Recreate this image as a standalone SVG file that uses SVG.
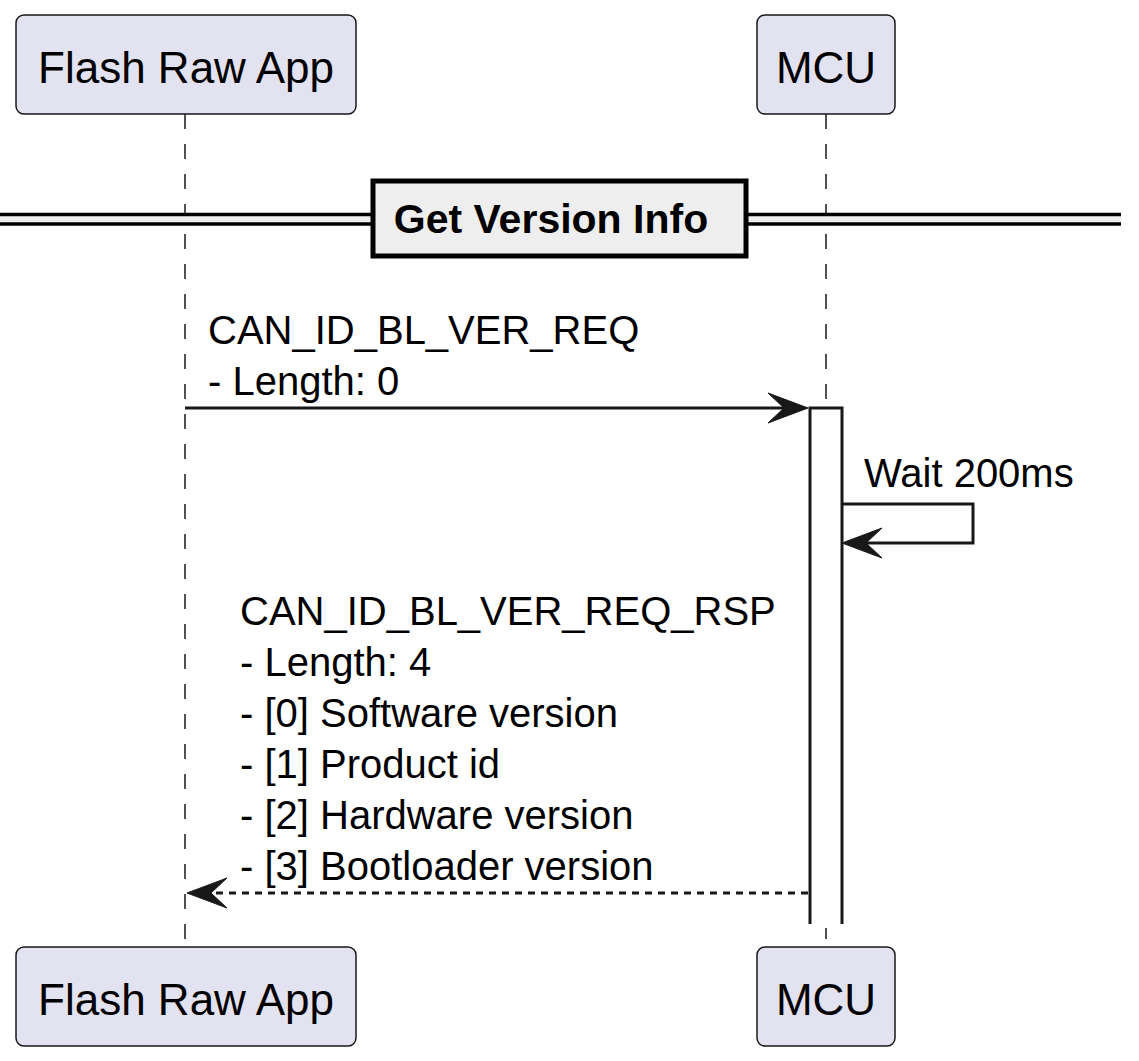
<svg xmlns="http://www.w3.org/2000/svg" width="1139" height="1061" viewBox="0 0 1139 1061">
<style>
.part rect{fill:#E2E2F0;stroke:#181818;stroke-width:1.5}
.part text{font-family:"Liberation Sans",Arial,sans-serif;font-size:44px;fill:#000;text-anchor:middle}
.life{stroke:#181818;stroke-width:1.5;stroke-dasharray:15,15;fill:none}
.msg{stroke:#181818;stroke-width:3;fill:none}
.dash{stroke-dasharray:7,6}
.head{fill:#181818;stroke:#181818;stroke-width:1}
.lbl{font-family:"Liberation Sans",Arial,sans-serif;font-size:40px;fill:#000}
</style>
<rect width="1139" height="1061" fill="#fff"/>
<g id="lifelines">
<line class="life" x1="185" y1="114" x2="185" y2="947"/>
<line class="life" x1="826" y1="114" x2="826" y2="947"/>
</g>
<g id="divider">
<rect x="0" y="215" width="1121" height="8" fill="#EEEEEE"/>
<line x1="0" y1="214.5" x2="1121" y2="214.5" stroke="#000" stroke-width="3.3"/>
<line x1="0" y1="224" x2="1121" y2="224" stroke="#000" stroke-width="3.3"/>
<rect x="373" y="181" width="373" height="75" fill="#EEEEEE" stroke="#000" stroke-width="5"/>
<text x="551" y="233" text-anchor="middle" font-family="'Liberation Sans',Arial,sans-serif" font-size="41" font-weight="bold">Get Version Info</text>
</g>
<g id="activation">
<rect x="810" y="408" width="32" height="520" fill="#fff" stroke="none"/>
<polyline points="810,924 810,408 842,408 842,924" fill="none" stroke="#181818" stroke-width="3"/>
</g>
<g id="connectors">
<line class="msg" x1="185" y1="408" x2="800" y2="408"/>
<polygon class="head" points="808,408 768,393 784,408 768,423"/>
<polyline class="msg" points="842,504 973,504 973,543 850,543"/>
<polygon class="head" points="842,543 882,528 866,543 882,558"/>
<line class="msg dash" x1="808" y1="893" x2="195" y2="893"/>
<polygon class="head" points="187,893 227,878 211,893 227,908"/>
</g>
<g id="labels">
<text class="lbl" x="208" y="344">CAN_ID_BL_VER_REQ</text>
<text class="lbl" x="208" y="395">- Length: 0</text>
<text class="lbl" x="864" y="487">Wait 200ms</text>
<text class="lbl" x="240" y="625">CAN_ID_BL_VER_REQ_RSP</text>
<text class="lbl" x="240" y="676">- Length: 4</text>
<text class="lbl" x="240" y="727">- [0] Software version</text>
<text class="lbl" x="240" y="778">- [1] Product id</text>
<text class="lbl" x="240" y="829">- [2] Hardware version</text>
<text class="lbl" x="240" y="880">- [3] Bootloader version</text>
</g>
<g id="flash-top" class="part"><rect x="16" y="15" width="340" height="99" rx="8"/><text x="186" y="83">Flash Raw App</text></g>
<g id="mcu-top" class="part"><rect x="757" y="15" width="138" height="99" rx="8"/><text x="826" y="83">MCU</text></g>
<g id="flash-bottom" class="part"><rect x="16" y="947" width="340" height="99" rx="8"/><text x="186" y="1015">Flash Raw App</text></g>
<g id="mcu-bottom" class="part"><rect x="757" y="947" width="138" height="99" rx="8"/><text x="826" y="1015">MCU</text></g>
</svg>
